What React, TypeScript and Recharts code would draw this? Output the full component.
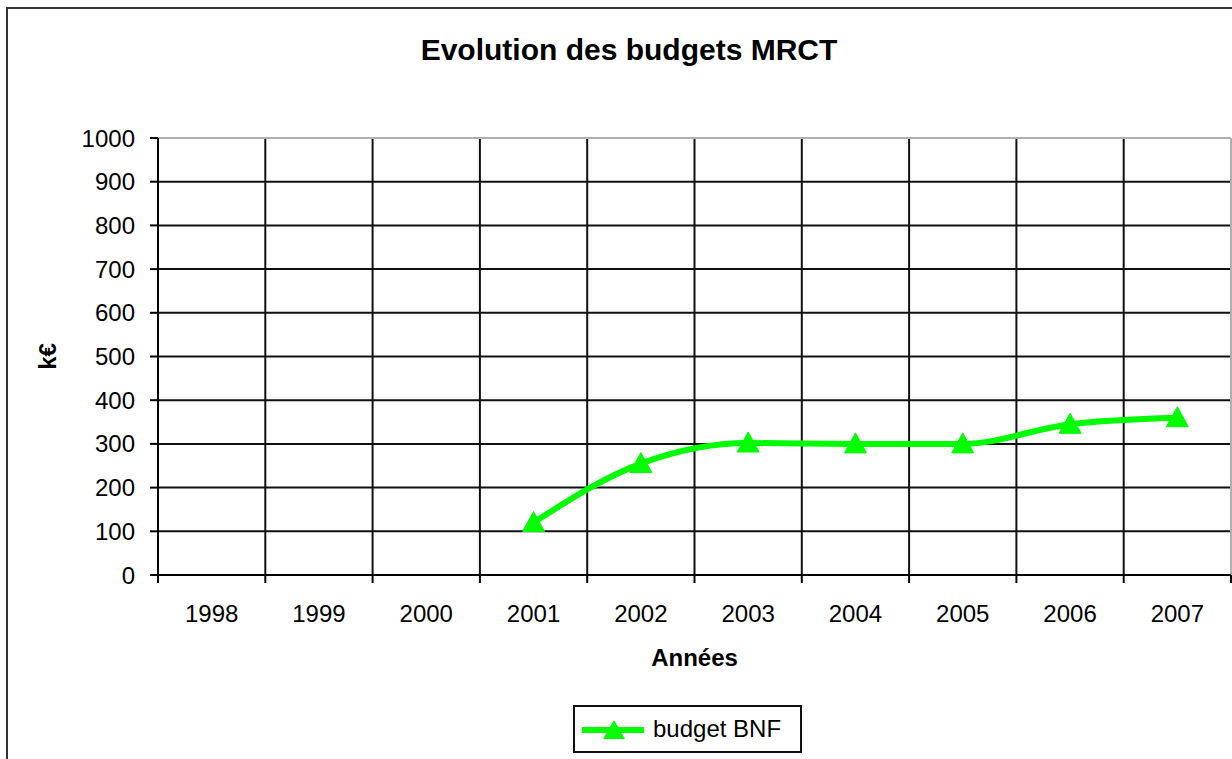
import React from "react";
import {
  LineChart,
  Line,
  XAxis,
  YAxis,
  CartesianGrid,
  Legend,
  ReferenceLine,
} from "recharts";

const YEARS = ["1998", "1999", "2000", "2001", "2002", "2003", "2004", "2005", "2006", "2007"];
const BUDGET_BNF: (number | null)[] = [null, null, null, 120, 255, 302, 300, 300, 345, 360];
const Y_TICKS = [0, 100, 200, 300, 400, 500, 600, 700, 800, 900, 1000];

const SERIES_NAME = "budget BNF";
const TITLE = "Evolution des budgets MRCT";
const X_LABEL = "Années";
const Y_LABEL = "k€";

const data = YEARS.map((y, i) => ({ year: y, bnf: BUDGET_BNF[i] }));

const W = 1232;
const H = 759;
const PLOT_LEFT = 158;
const PLOT_RIGHT = 1231;
const PLOT_TOP = 138;
const PLOT_BOTTOM = 575;
const Y_AXIS_W = 60;
const X_AXIS_H = 30;
const BAND = (PLOT_RIGHT - PLOT_LEFT) / YEARS.length;
const FONT = "'Liberation Sans', Arial, sans-serif";
const GREEN = "#00ff00";

const Triangle = (props: any) => {
  const { cx, cy, value } = props;
  if (cx == null || cy == null || value == null) return null;
  return (
    <polygon
      points={`${cx},${cy - 11} ${cx - 11},${cy + 9} ${cx + 11},${cy + 9}`}
      fill={GREEN}
      stroke={GREEN}
      strokeWidth={1}
    />
  );
};

const XTick = (props: any) => {
  const { x, payload, index } = props;
  const last = index === YEARS.length - 1;
  return (
    <g>
      <line x1={x - BAND / 2} x2={x - BAND / 2} y1={PLOT_BOTTOM} y2={PLOT_BOTTOM + 8} stroke="#000" strokeWidth={2} />
      {last && (
        <line x1={x + BAND / 2} x2={x + BAND / 2} y1={PLOT_BOTTOM} y2={PLOT_BOTTOM + 8} stroke="#000" strokeWidth={2} />
      )}
      <text x={x} y={PLOT_BOTTOM + 47} textAnchor="middle" fontSize={24} fontFamily={FONT} fill="#000">
        {payload.value}
      </text>
    </g>
  );
};

const LegendContent = () => (
  <div
    style={{
      border: "2px solid #111",
      width: 229,
      height: 48,
      boxSizing: "border-box",
      display: "flex",
      alignItems: "center",
      background: "#fff",
      fontFamily: FONT,
      fontSize: 24,
      color: "#000",
    }}
  >
    <svg width={72} height={40} style={{ marginLeft: 4 }}>
      <line x1={3} x2={65} y1={21} y2={21} stroke={GREEN} strokeWidth={6} />
      <polygon points={`35,11 24,30 46,30`} fill={GREEN} />
    </svg>
    <span style={{ marginLeft: 2 }}>{SERIES_NAME}</span>
  </div>
);

export default function App() {
  return (
    <div
      style={{
        position: "absolute",
        left: 0,
        top: 0,
        width: W,
        height: H,
        overflow: "hidden",
        background: "#fff",
      }}
    >
      <div
        style={{
          position: "absolute",
          left: 6,
          top: 7,
          width: 1400,
          height: 900,
          border: "2px solid #333",
          boxSizing: "border-box",
        }}
      />
      <div
        style={{
          position: "absolute",
          left: 0,
          width: 1258,
          top: 33,
          textAlign: "center",
          fontFamily: FONT,
          fontWeight: "bold",
          fontSize: 30,
          color: "#000",
          lineHeight: "34px",
        }}
      >
        {TITLE}
      </div>
      <div style={{ position: "absolute", left: 0, top: 0 }}>
        <LineChart
          width={W}
          height={H}
          data={data}
          margin={{
            top: PLOT_TOP,
            right: W - PLOT_RIGHT,
            bottom: H - PLOT_BOTTOM - X_AXIS_H,
            left: PLOT_LEFT - Y_AXIS_W,
          }}
        >
          <CartesianGrid
            stroke="#111"
            strokeWidth={2}
            verticalCoordinatesGenerator={({ offset }: any) =>
              YEARS.map((_, i) => offset.left + (i * offset.width) / YEARS.length)
            }
          />
          <CartesianGrid
            stroke="#b0b0b0"
            strokeWidth={2}
            horizontal={false}
            verticalCoordinatesGenerator={({ offset }: any) => [offset.left + offset.width]}
          />
          <ReferenceLine y={1000} stroke="#b0b0b0" strokeWidth={2} />
          <XAxis
            dataKey="year"
            height={X_AXIS_H}
            padding={{ left: BAND / 2, right: BAND / 2 }}
            axisLine={{ stroke: "#000", strokeWidth: 2 }}
            tickLine={false}
            tick={<XTick />}
            interval={0}
            label={{
              content: (p: any) => (
                <text
                  x={p.viewBox.x + p.viewBox.width / 2}
                  y={PLOT_BOTTOM + 91}
                  textAnchor="middle"
                  fontSize={24}
                  fontWeight="bold"
                  fontFamily={FONT}
                  fill="#000"
                >
                  {X_LABEL}
                </text>
              ),
            }}
          />
          <YAxis
            width={Y_AXIS_W}
            domain={[0, 1000]}
            ticks={Y_TICKS}
            interval={0}
            axisLine={{ stroke: "#000", strokeWidth: 2 }}
            tickLine={{ stroke: "#000", strokeWidth: 2 }}
            tickSize={8}
            tickMargin={15}
            tick={{ fontSize: 24, fontFamily: FONT, fill: "#000" }}
            label={{
              content: (p: any) => {
                const cy = p.viewBox.y + p.viewBox.height / 2;
                return (
                  <text
                    x={47}
                    y={cy}
                    transform={`rotate(-90, 47, ${cy})`}
                    textAnchor="middle"
                    dominantBaseline="central"
                    fontSize={24}
                    fontWeight="bold"
                    fontFamily={FONT}
                    fill="#000"
                  >
                    {Y_LABEL}
                  </text>
                );
              },
            }}
          />
          <Legend
            layout="horizontal"
            verticalAlign="middle"
            align="center"
            content={<LegendContent />}
            wrapperStyle={{ left: 573, top: 705, width: 229, height: 48 }}
          />
          <Line
            type="monotone"
            dataKey="bnf"
            name={SERIES_NAME}
            stroke={GREEN}
            strokeWidth={6}
            dot={<Triangle />}
            activeDot={false}
            connectNulls={false}
            isAnimationActive={false}
          />
        </LineChart>
      </div>
    </div>
  );
}
